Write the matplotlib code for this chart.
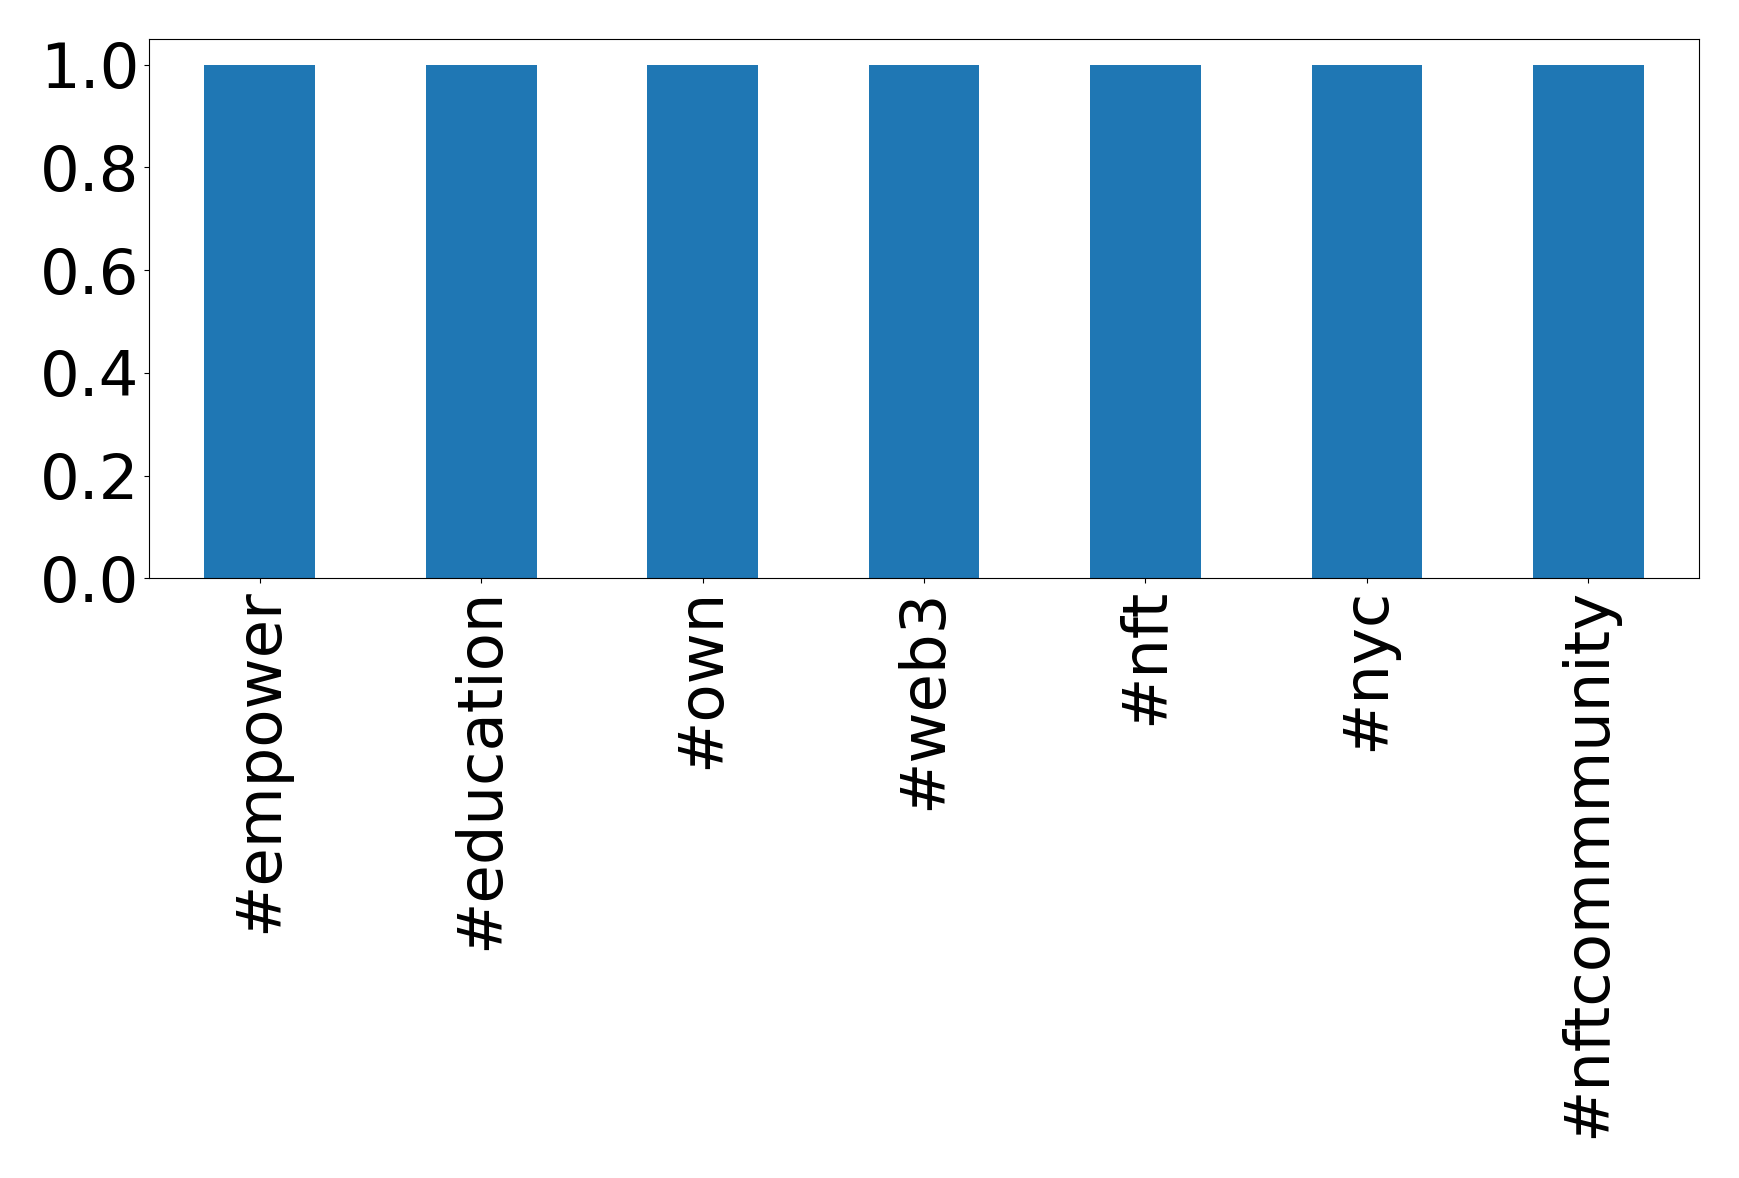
import matplotlib
matplotlib.use('Agg')
import matplotlib.pyplot as plt

tags = ['#empower', '#education', '#own', '#web3', '#nft', '#nyc', '#nftcommmunity']
counts = [1, 1, 1, 1, 1, 1, 1]

fig = plt.figure(figsize=(17.39, 11.78), dpi=100)
ax = fig.add_axes([0.0857, 0.509, 0.8913, 0.458])

x = range(len(tags))
ax.bar(x, counts, width=0.5, color='#1f77b4')
ax.set_xlim(-0.5, len(tags) - 0.5)
ax.set_ylim(0, 1.05)
ax.set_xticks(list(x))
ax.set_xticklabels(tags, rotation=90)
ax.set_yticks([0.0, 0.2, 0.4, 0.6, 0.8, 1.0])
ax.tick_params(labelsize=45)

fig.savefig('out.png', dpi=100)
